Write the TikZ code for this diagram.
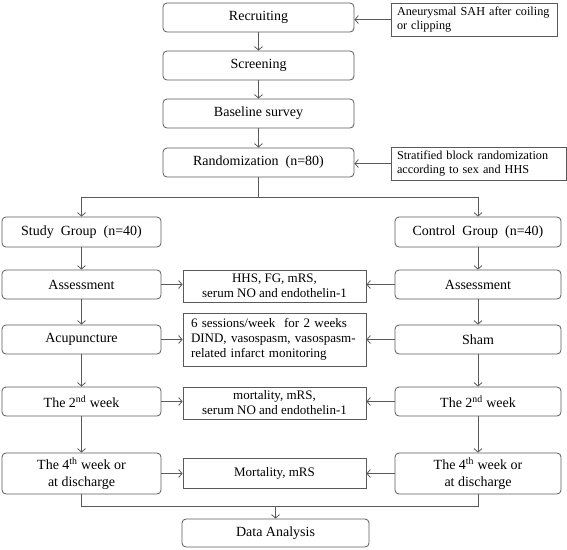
\documentclass[tikz,border=0pt]{standalone}
\usepackage{fontspec}
\setmainfont{Liberation Serif}
\usetikzlibrary{arrows.meta}
\definecolor{ln}{HTML}{5A5A5A}
\begin{document}
\begin{tikzpicture}[x=1pt,y=-1pt,
  rbox/.style={draw=ln,line width=0.8pt,rounded corners=4pt,inner sep=0pt,align=center,
    font=\fontsize{14}{17}\selectfont},
  sbox/.style={draw=ln,line width=0.8pt,inner sep=0pt,align=center,
    font=\fontsize{13}{15}\selectfont},
  lbox/.style={draw=ln,line width=0.8pt,inner ysep=0pt,align=left,
    font=\fontsize{12.2}{14}\selectfont},
  arr/.style={draw=ln,line width=0.8pt,-{Straight Barb[length=3.5pt,width=8pt]}},
  ln/.style={draw=ln,line width=0.8pt}]
\useasboundingbox (0,0) rectangle (567,549);
% main column
\node[rbox,minimum width=191pt,minimum height=29pt] (rec) at (258.5,17.5) {Recruiting};
\node[rbox,minimum width=191pt,minimum height=29pt] (scr) at (258.5,65.5) {Screening};
\node[rbox,minimum width=191pt,minimum height=29pt] (base) at (258.5,113.5) {Baseline survey};
\node[rbox,minimum width=191pt,minimum height=29pt] (rand) at (258.5,162.5) {Randomization\ \ (n=80)};
% side boxes
\node[lbox,inner xsep=6pt,text width=154pt,minimum height=33pt] (side1) at (474,19.5) {\mbox{Aneurysmal SAH after coiling}\\or clipping};
\node[lbox,inner xsep=6pt,text width=163pt,minimum height=33pt] (side2) at (478.5,163.5) {\mbox{Stratified block randomization}\\\mbox{according to sex and HHS}};
\draw[arr] (side1.west) -- (side1.west -| rec.east);
\draw[arr] (side2.west) -- (side2.west -| rand.east);
\draw[arr] (rec) -- (scr);
\draw[arr] (scr) -- (base);
\draw[arr] (base) -- (rand);
% groups
\node[rbox,minimum width=159pt,minimum height=30pt] (grpL) at (81.5,232) {Study\ \ Group\ \ (n=40)};
\node[rbox,minimum width=166pt,minimum height=30pt] (grpR) at (478,232) {Control\ \ Group\ \ (n=40)};
\coordinate (split) at (258.5,197);
\draw[ln] (rand.south) -- (split);
\draw[arr] (split) -| (grpL.north);
\draw[arr] (split) -| (grpR.north);
% rows
\node[rbox,minimum width=159pt,minimum height=29pt] (asmL) at (81.5,284.5) {Assessment};
\node[rbox,minimum width=166pt,minimum height=29pt] (asmR) at (478,284.5) {Assessment};
\node[rbox,minimum width=159pt,minimum height=29pt] (acu) at (81.5,339.5) {Acupuncture};
\node[rbox,minimum width=166pt,minimum height=29pt] (sham) at (478,339.5) {Sham};
\node[rbox,minimum width=159pt,minimum height=29pt] (wkL) at (81.5,401.5) {The 2\textsuperscript{nd} week};
\node[rbox,minimum width=166pt,minimum height=29pt] (wkR) at (478,401.5) {The 2\textsuperscript{nd} week};
\node[rbox,minimum width=159pt,minimum height=41pt] (fwL) at (81.5,473.5) {The 4\textsuperscript{th} week or\\at discharge};
\node[rbox,minimum width=166pt,minimum height=41pt] (fwR) at (478,473.5) {The 4\textsuperscript{th} week or\\at discharge};
% middle boxes
\node[sbox,minimum width=183pt,minimum height=32pt] (m1) at (274.5,286) {HHS, FG, mRS,\\serum NO and endothelin-1};
\node[sbox,align=left,inner xsep=8pt,text width=167pt,minimum height=53pt] (m2) at (274.5,339.5) {\mbox{6 sessions/week\ \ for 2 weeks}\\\mbox{DIND, vasospasm, vasospasm-}\\\mbox{related infarct monitoring}};
\node[sbox,minimum width=183pt,minimum height=32pt] (m3) at (274.5,403) {mortality, mRS,\\serum NO and endothelin-1};
\node[sbox,minimum width=183pt,minimum height=30pt] (m4) at (274.5,473) {Mortality,\ mRS};
\node[rbox,minimum width=187pt,minimum height=28pt] (data) at (275.5,533) {Data Analysis};
% vertical arrows
\draw[arr] (grpL) -- (asmL);
\draw[arr] (asmL) -- (acu);
\draw[arr] (acu) -- (wkL);
\draw[arr] (wkL) -- (fwL);
\draw[arr] (grpR) -- (asmR);
\draw[arr] (asmR) -- (sham);
\draw[arr] (sham) -- (wkR);
\draw[arr] (wkR) -- (fwR);
% horizontal arrows
\draw[arr] (asmL.east) -- (asmL.east -| m1.west);
\draw[arr] (asmR.west) -- (asmR.west -| m1.east);
\draw[arr] (acu.east) -- (acu.east -| m2.west);
\draw[arr] (sham.west) -- (sham.west -| m2.east);
\draw[arr] (wkL.east) -- (wkL.east -| m3.west);
\draw[arr] (wkR.west) -- (wkR.west -| m3.east);
\draw[arr] (fwL.east) -- (fwL.east -| m4.west);
\draw[arr] (fwR.west) -- (fwR.west -| m4.east);
% join
\coordinate (join) at (275.5,506);
\draw[ln] (fwL.south) |- (join);
\draw[ln] (fwR.south) |- (join);
\draw[arr] (join) -- (data.north);
\end{tikzpicture}
\end{document}
